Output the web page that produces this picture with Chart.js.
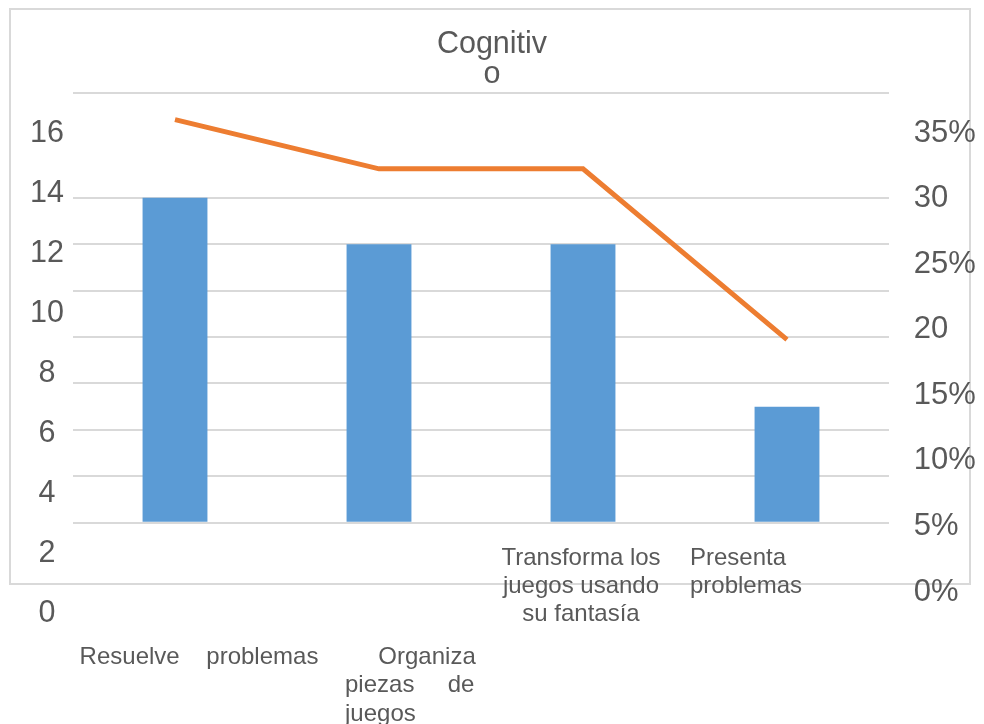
<!DOCTYPE html>
<html>
<head>
<meta charset="utf-8">
<script src="https://cdn.jsdelivr.net/npm/chart.js@4.4.1/dist/chart.umd.min.js"></script>
<style>
html,body{margin:0;padding:0;background:#ffffff;}
canvas{display:block;}
</style>
</head>
<body>
<canvas id="c" width="984" height="724"></canvas>
<script>
// ---- data ----
const categories = ["Resuelve problemas", "Organiza piezas de juegos", "Transforma los juegos usando su fantasía", "Presenta problemas"];
const categoryTickLines = [
  ["Resuelve    problemas"],
  ["     Organiza", "piezas     de", "juegos"],
  ["Transforma los", "juegos usando", "su fantasía"],
  ["Presenta", "problemas"]
];
const frequency = [14, 12, 12, 5];
const percentage = [32.6, 27.9, 27.9, 11.6];
const titleLines = ["Cognitiv", "o"];
const leftTickValues = [0, 2, 4, 6, 8, 10, 12, 14, 16];
const rightTickValues = [0, 5, 10, 15, 20, 25, 30, 35];
const rightTickLabels = ["0%", "5%", "10%", "15%", "20", "25%", "30", "35%"];
const gridTickValues = [0, 2, 4, 6, 8, 10, 12, 14];

// ---- styles ----
const TEXT = '#595959';
const GRID = '#d9d9d9';
Chart.defaults.font.family = "'Liberation Sans', Arial, sans-serif";
Chart.defaults.color = TEXT;

function categoryLabelAxis(index, yValue, align, labelOffset, lineHeight) {
  return {
    type: 'category',
    position: { y: yValue },
    offset: true,
    grid: { display: false, drawTicks: false },
    border: { display: false },
    ticks: {
      autoSkip: false, maxRotation: 0, minRotation: 0, padding: 0,
      align: align, labelOffset: labelOffset, color: TEXT,
      font: { size: 24, lineHeight: lineHeight + 'px' },
      callback: (v, i) => (i === index ? categoryTickLines[index] : '')
    }
  };
}

const frame = {
  id: 'frame',
  beforeDraw(chart) {
    const ctx = chart.ctx;
    ctx.save();
    ctx.strokeStyle = GRID;
    ctx.lineWidth = 2;
    ctx.strokeRect(10, 9, 960, 575);
    ctx.restore();
  }
};

new Chart(document.getElementById('c'), {
  data: {
    labels: categories,
    datasets: [
      {
        type: 'line', label: 'Porcentaje', data: percentage,
        borderColor: '#ED7D31', backgroundColor: '#ED7D31', borderWidth: 5,
        pointRadius: 0, tension: 0, fill: false,
        xAxisID: 'x', yAxisID: 'y2', order: 0
      },
      {
        type: 'bar', label: 'Frecuencia', data: frequency,
        backgroundColor: '#5B9BD5', borderWidth: 0,
        barPercentage: 0.318, categoryPercentage: 1,
        xAxisID: 'x', yAxisID: 'y', order: 1
      }
    ]
  },
  options: {
    responsive: false,
    animation: false,
    layout: { padding: { top: 30, bottom: 110.5, left: 0, right: 0 } },
    plugins: {
      legend: { display: false },
      tooltip: { enabled: false },
      title: {
        display: true, text: titleLines, color: TEXT,
        font: { size: 30.5, weight: 'normal', lineHeight: '30px' },
        padding: { top: 0, bottom: 2.7 }
      }
    },
    scales: {
      x:  categoryLabelAxis(2, -0.913, 'center', -2, 28),
      x1: categoryLabelAxis(0, -5.168, 'center', 24, 28.5),
      x2: categoryLabelAxis(1, -5.168, 'start', -34, 28.5),
      x4: categoryLabelAxis(3, -0.913, 'start', -97, 28),
      y: {
        type: 'linear', position: 'left', weight: 0,
        min: -3.911, max: 18.523,
        grid: { color: GRID, lineWidth: 2, drawTicks: false },
        border: { display: false },
        ticks: { display: false },
        afterBuildTicks: s => { s.ticks = gridTickValues.concat([s.max]).map(v => ({ value: v })); },
        afterFit: s => { s.width = 0; }
      },
      yL: {
        type: 'linear', position: 'left', weight: 1,
        min: 0, max: 17.378,
        grid: { display: false, drawTicks: false },
        border: { display: false },
        ticks: { crossAlign: 'center', padding: 9, autoSkip: false, color: TEXT, font: { size: 30.5 } },
        afterBuildTicks: s => { s.ticks = leftTickValues.map(v => ({ value: v })); },
        afterFit: s => { s.width = 73; }
      },
      yR: {
        type: 'linear', position: 'right', weight: 1,
        min: -1.640, max: 38.097,
        grid: { display: false, drawTicks: false },
        border: { display: false },
        ticks: {
          padding: 24.7, autoSkip: false, color: TEXT, font: { size: 31 },
          callback: v => rightTickLabels[rightTickValues.indexOf(v)]
        },
        afterBuildTicks: s => { s.ticks = rightTickValues.map(v => ({ value: v })); },
        afterFit: s => { s.width = 95; }
      },
      y2: {
        type: 'linear', position: 'right', weight: 0, display: false,
        min: -14.535, max: 35.169
      }
    }
  },
  plugins: [frame]
});
</script>
</body>
</html>
